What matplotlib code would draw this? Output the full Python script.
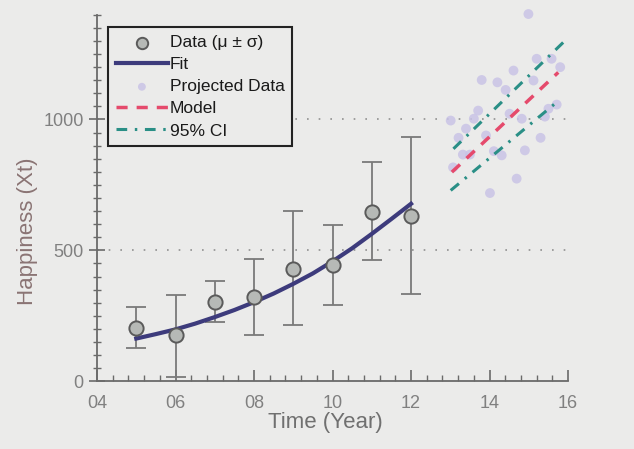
import matplotlib.pyplot as plt
from matplotlib.ticker import MultipleLocator, FuncFormatter

plt.rcParams["font.family"] = ["Liberation Sans", "DejaVu Sans"]

# observed data (mean +/- sigma)
years = [5, 6, 7, 8, 9, 10, 11, 12]
means = [203, 176, 301, 320, 427, 445, 648, 632]
err_lo = [126, 15, 225, 176, 214, 290, 465, 332]
err_hi = [283, 328, 382, 466, 652, 598, 838, 935]

# fitted curve
fit_x = [5, 5.5, 6, 6.5, 7, 7.5, 8, 8.5, 9, 9.5, 10, 10.5, 11, 11.5, 12]
fit_y = [163, 180, 198, 220, 245, 272, 302, 335, 372, 412, 458, 508, 563, 620, 678]

# projection
proj_x = [14.99, 15.20, 15.58, 15.80, 14.61, 13.80, 14.20, 15.12, 14.41, 13.71,
          14.51, 14.82, 15.41, 15.50, 15.71, 13.01, 13.60, 13.40, 13.91, 13.21,
          15.30, 13.32, 13.50, 14.11, 14.31, 14.90, 14.69, 14.01, 13.07]
proj_y = [1403, 1232, 1232, 1200, 1187, 1151, 1142, 1149, 1113, 1034,
          1022, 1003, 1011, 1041, 1057, 996, 1003, 965, 939, 930,
          930, 866, 866, 879, 863, 882, 774, 719, 817]
model_x = [13.04, 15.75]
model_y = [799, 1180]
ci_up_x = [13.08, 15.88]
ci_up_y = [888, 1295]
ci_lo_x = [13.01, 15.71]
ci_lo_y = [729, 1066]

BG = "#ebebea"
TXT = "#808080"

fig = plt.figure(figsize=(6.34, 4.49), dpi=100, facecolor=BG)
ax = fig.add_axes([0.153, 0.151, 0.743, 0.816], facecolor=BG)

ax.axhline(500, color="#909090", ls=(0, (1, 6)), lw=1.2, zorder=1)
ax.axhline(1000, color="#909090", ls=(0, (1, 6)), lw=1.2, zorder=1)

yerr = [[m - lo for m, lo in zip(means, err_lo)],
        [hi - m for m, hi in zip(means, err_hi)]]
ax.errorbar(years, means, yerr=yerr, fmt="none", ecolor="#7a7a7a",
            elinewidth=1.3, capsize=7, capthick=1.3, zorder=2)
fit_line, = ax.plot(fit_x, fit_y, color="#3d3b7c", lw=3, zorder=3, label="Fit")
pts = ax.scatter(years, means, s=105, color="#b6b9b6", edgecolor="#5a5a5a",
                 linewidth=1.4, zorder=4, label="Data (\u03bc \u00b1 \u03c3)")

proj = ax.scatter(proj_x, proj_y, s=50, color="#c9c3e6", alpha=0.85,
                  edgecolor="none", zorder=2, clip_on=False, label="Projected Data")
model, = ax.plot(model_x, model_y, color="#e54a6c", lw=2.5,
                 ls=(0, (3.2, 2.6)), zorder=3, label="Model")
ci, = ax.plot(ci_up_x, ci_up_y, color="#2a8f86", lw=2.2,
              ls=(0, (3.5, 2.5, 0.8, 2.5)), zorder=3, label="95% CI")
ax.plot(ci_lo_x, ci_lo_y, color="#2a8f86", lw=2.2,
        ls=(0, (3.5, 2.5, 0.8, 2.5)), zorder=3)

ax.set_xlim(4, 16)
ax.set_ylim(0, 1400)
ax.xaxis.set_major_locator(MultipleLocator(2))
ax.xaxis.set_minor_locator(MultipleLocator(0.4))
ax.yaxis.set_major_locator(MultipleLocator(500))
ax.yaxis.set_minor_locator(MultipleLocator(50))
ax.xaxis.set_major_formatter(FuncFormatter(lambda v, p: f"{int(v):02d}"))

for side in ["top", "right"]:
    ax.spines[side].set_visible(False)
for side in ["left", "bottom"]:
    ax.spines[side].set_color("#6a6a6a")
    ax.spines[side].set_linewidth(1.3)

ax.tick_params(axis="x", which="both", direction="in", colors="#6a6a6a",
               labelcolor=TXT, labelsize=13, pad=10)
ax.tick_params(axis="x", which="major", length=8, width=1.2)
ax.tick_params(axis="x", which="minor", length=4, width=1)
ax.tick_params(axis="y", which="both", direction="inout", colors="#6a6a6a",
               labelcolor=TXT, labelsize=13)
ax.tick_params(axis="y", which="major", length=12, width=1.2)
ax.tick_params(axis="y", which="minor", length=6, width=1)

ax.set_xlabel("Time (Year)", fontsize=16, color="#707070")
ax.set_ylabel("Happiness (Xt)", fontsize=16, color="#8a7474")
ax.xaxis.set_label_coords(0.484, -0.085)
ax.yaxis.set_label_coords(-0.125, 0.41)

leg = ax.legend(handles=[pts, fit_line, proj, model, ci], loc="upper left",
                bbox_to_anchor=(0.005, 0.99), fontsize=12.5, frameon=True,
                fancybox=False, edgecolor="#222222", facecolor=BG,
                handlelength=3.0, handletextpad=0.1, labelspacing=0.4,
                borderpad=0.45, markerscale=0.8)
leg.get_frame().set_linewidth(1.5)
leg.get_frame().set_alpha(1)
for t in leg.get_texts():
    t.set_color("#1a1a1a")

fig.savefig("out.png", dpi=100, facecolor=BG)
